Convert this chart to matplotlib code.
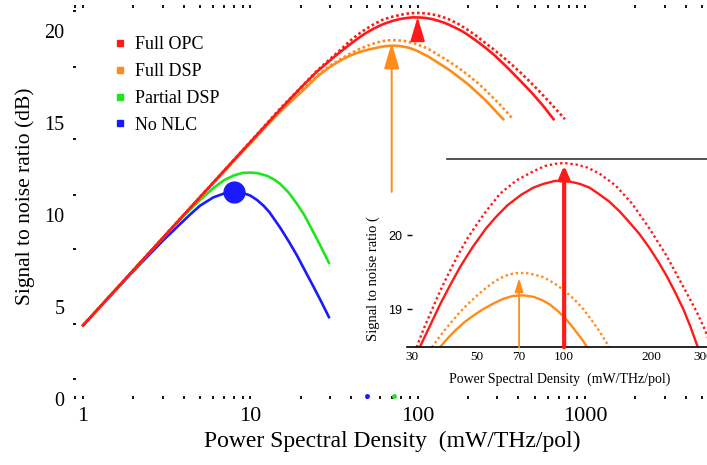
import matplotlib
matplotlib.use("Agg")
import matplotlib.pyplot as plt
from matplotlib.lines import Line2D
from matplotlib.ticker import FixedLocator, LogLocator, NullFormatter, NullLocator

plt.rcParams["font.family"] = ["Liberation Serif", "DejaVu Serif"]

RED = "#ff1a1a"
ORANGE = "#ff8c1a"
GREEN = "#1ee61e"
BLUE = "#1a1aff"

# --- main panel: SNR (dB) against power spectral density (mW/THz/pol) ---
opc_psd = [1, 2, 4, 8, 15, 20, 25, 31.9, 34.5, 37.4, 40.5, 43.9, 48.5, 53.9, 58.5, 63.8, 71,
           78.5, 85, 93.3, 104.8, 113, 122, 132, 143, 155, 166, 181, 197, 225, 257, 290, 340,
           400, 480, 560, 650]
opc_snr = [4.0, 7.0, 10.0, 13.0, 15.7, 16.9, 17.78, 18.6, 18.85, 19.1, 19.34, 19.58, 19.85,
           20.09, 20.25, 20.4, 20.54, 20.64, 20.69, 20.73, 20.72, 20.69, 20.64, 20.55, 20.45,
           20.32, 20.19, 20.02, 19.82, 19.45, 19.05, 18.65, 18.05, 17.4, 16.65, 15.95, 15.2]

opc_dot_psd = [1, 2, 4, 8, 15, 20, 25, 31.1, 33, 35.1, 37.6, 40.4, 43.3, 46.6, 50, 53.9, 60.3,
               68.8, 78.5, 86, 93.3, 100, 110, 120, 132, 150, 171.5, 197, 225, 257, 286, 320,
               360, 410, 470, 540, 640, 760]
opc_dot_snr = [4.0, 7.0, 10.0, 13.0, 15.75, 16.92, 17.82, 18.6, 18.8, 19.02, 19.28, 19.53,
               19.75, 19.96, 20.14, 20.32, 20.56, 20.74, 20.86, 20.93, 20.96, 20.97, 20.95,
               20.91, 20.83, 20.67, 20.42, 20.08, 19.72, 19.3, 18.98, 18.62, 18.22, 17.75,
               17.23, 16.67, 15.95, 15.2]

dsp_psd = [1, 2, 4, 8, 15, 20, 25, 30, 34, 37.4, 40, 42.6, 45.5, 48.9, 52.5, 57.2, 61.5, 66.5,
           72, 78.5, 84, 89, 95, 101, 108, 116, 135, 160, 200, 250, 325]
dsp_snr = [4.0, 7.0, 10.0, 12.95, 15.6, 16.65, 17.5, 18.05, 18.35, 18.55, 18.67, 18.77, 18.86,
           18.94, 19.01, 19.08, 19.14, 19.18, 19.19, 19.17, 19.125, 19.07, 18.98, 18.88, 18.74,
           18.6, 18.22, 17.78, 17.1, 16.3, 15.2]

dsp_dot_psd = [1, 2, 4, 8, 15, 20, 25, 30, 35.1, 37.6, 40.4, 43.3, 46.6, 50, 53.9, 57, 60.3,
               64.5, 69.2, 74, 78.5, 84, 89, 95, 101, 108, 116, 124, 132, 150, 175, 200, 230,
               260, 310, 372]
dsp_dot_snr = [4.0, 7.0, 10.0, 12.95, 15.62, 16.7, 17.55, 18.1, 18.49, 18.65, 18.8, 18.94,
               19.07, 19.18, 19.29, 19.36, 19.42, 19.47, 19.49, 19.49, 19.47, 19.44, 19.39,
               19.32, 19.24, 19.14, 19.01, 18.86, 18.71, 18.4, 18.0, 17.6, 17.15, 16.7, 16.0,
               15.2]

partial_psd = [1, 2, 3, 4, 5, 6, 7, 8, 9, 10, 11, 12.6, 14, 15.1, 17, 19, 21, 23.7, 26.5, 29.5]
partial_snr = [4.0, 7.0, 8.75, 9.95, 10.8, 11.45, 11.9, 12.15, 12.28, 12.3, 12.27, 12.12, 11.9,
               11.68, 11.2, 10.6, 10.0, 9.1, 8.25, 7.4]

nonlc_psd = [1, 2, 3, 3.8, 4.4, 5, 6, 7, 8, 9, 10, 11, 12, 13, 15.1, 17, 19, 21, 23.7, 26.5, 29.5]
nonlc_snr = [4.0, 6.95, 8.6, 9.5, 10.05, 10.5, 10.95, 11.17, 11.25, 11.2, 11.05, 10.8, 10.5,
             10.15, 9.3, 8.55, 7.8, 7.05, 6.15, 5.3, 4.45]

nonlc_opt = (8, 11.25)
dsp_arrow = (70, 11.25, 19.35)
opc_arrow = (100, 19.5, 20.75)
axis_marks_psd = [50, 72]

main_xticks = [1, 10, 100, 1000]
main_yticks = [0, 5, 10, 15, 20]
main_ydots = [1.1, 4.1, 8.15, 11.1, 14.1, 18.05, 21.1]
legend_labels = ["Full OPC", "Full DSP", "Partial DSP", "No NLC"]

# --- inset: zoom on the peaks ---
in_opc_psd = [31.9, 34.5, 37.4, 40.5, 43.9, 48.5, 53.9, 58.5, 63.8, 71, 78.5, 85, 93.3, 104.8,
              113, 122, 132, 143, 155, 166, 181, 197, 210, 225, 240, 257, 272, 288]
in_opc_snr = [18.49, 18.77, 19.06, 19.32, 19.57, 19.84, 20.09, 20.25, 20.4, 20.54, 20.64,
              20.69, 20.73, 20.72, 20.69, 20.64, 20.55, 20.45, 20.32, 20.19, 20.02, 19.82,
              19.65, 19.45, 19.24, 19.0, 18.76, 18.49]

in_opc_dot_psd = [31.1, 33, 35.1, 37.6, 40.4, 43.3, 46.6, 50, 53.9, 60.3, 68.8, 78.5, 86, 93.3,
                  100, 110, 120, 132, 150, 171.5, 197, 225, 257, 286, 305, 320]
in_opc_dot_snr = [18.49, 18.75, 18.99, 19.26, 19.51, 19.74, 19.96, 20.14, 20.32, 20.56, 20.74,
                  20.86, 20.93, 20.96, 20.97, 20.95, 20.91, 20.83, 20.67, 20.42, 20.08, 19.72,
                  19.3, 18.96, 18.72, 18.5]

in_dsp_psd = [37.4, 40, 42.6, 45.5, 48.9, 52.5, 57.2, 61.5, 66.5, 72, 78.5, 84, 89, 95, 101,
              108, 116, 120]
in_dsp_snr = [18.49, 18.62, 18.73, 18.83, 18.92, 19.0, 19.08, 19.14, 19.18, 19.19, 19.17,
              19.125, 19.07, 18.98, 18.88, 18.74, 18.58, 18.49]

in_dsp_dot_psd = [35.1, 37.6, 40.4, 43.3, 46.6, 50, 53.9, 57, 60.3, 64.5, 69.2, 74, 78.5, 84,
                  89, 95, 101, 108, 116, 124, 132, 143]
in_dsp_dot_snr = [18.49, 18.65, 18.8, 18.94, 19.07, 19.18, 19.29, 19.36, 19.42, 19.47, 19.49,
                  19.49, 19.47, 19.44, 19.39, 19.32, 19.24, 19.14, 19.01, 18.86, 18.71, 18.49]

in_opc_arrow = (100, 18.49, 20.94)
in_dsp_arrow = (70, 18.49, 19.42)
inset_xticks = [30, 50, 70, 100, 200, 300]
inset_yticks = [19, 20]

fig = plt.figure(figsize=(7.07, 4.65), dpi=100)

ax = fig.add_axes([0.1033, 0.1419, 0.8967, 0.8473])
ax.set_xscale("log")
ax.set_xlim(0.871, 5373)
ax.set_ylim(0, 21.4)
for s in ax.spines.values():
    s.set_visible(False)

lw = 1.9
ax.plot(nonlc_psd, nonlc_snr, color=BLUE, lw=lw)
ax.plot(partial_psd, partial_snr, color=GREEN, lw=lw)
ax.plot(dsp_dot_psd, dsp_dot_snr, color=ORANGE, lw=lw, ls=(0, (1, 1)))
ax.plot(dsp_psd, dsp_snr, color=ORANGE, lw=lw)
ax.plot(opc_dot_psd, opc_dot_snr, color=RED, lw=lw, ls=(0, (1, 1)))
ax.plot(opc_psd, opc_snr, color=RED, lw=lw)
ax.plot(*nonlc_opt, "o", color=BLUE, ms=15)
ax.plot(axis_marks_psd[:1], [0.15], ls="none", marker="o", ms=2.5, color=BLUE, clip_on=False)
ax.plot(axis_marks_psd[1:], [0.15], ls="none", marker="o", ms=2.5, color=GREEN, clip_on=False)

ax.annotate("", xy=(dsp_arrow[0], dsp_arrow[2]), xytext=(dsp_arrow[0], dsp_arrow[1]),
            arrowprops=dict(arrowstyle="-|>,head_length=1.6,head_width=0.47", mutation_scale=10,
                            color=ORANGE, lw=1.4, shrinkA=0, shrinkB=0))
ax.annotate("", xy=(opc_arrow[0], opc_arrow[2]), xytext=(opc_arrow[0], opc_arrow[1]),
            arrowprops=dict(arrowstyle="-|>,head_length=1.5,head_width=0.45", mutation_scale=10,
                            color=RED, lw=1.4, shrinkA=0, shrinkB=0))

ax.set_xticks(main_xticks, [str(v) for v in main_xticks])
ax.xaxis.set_minor_locator(LogLocator(base=10, subs=range(2, 10), numticks=20))
ax.xaxis.set_minor_formatter(NullFormatter())
ax.tick_params(axis="x", which="both", direction="in", top=True, bottom=True,
               width=1.3, length=2.5, labelsize=16, pad=5.5)
ax.set_yticks(main_yticks)
ax.yaxis.set_minor_locator(FixedLocator(main_ydots))
ax.tick_params(axis="y", which="major", length=0, labelsize=14.5, pad=6)
ax.tick_params(axis="y", which="minor", direction="in", length=2.5, width=1.3)

fig.text(25 / 707, 1 - 196 / 465, "Signal to noise ratio (dB)", rotation=90,
         ha="center", va="center", fontsize=15.5)
fig.text(392 / 707, 1 - 441 / 465, "Power Spectral Density  (mW/THz/pol)",
         ha="center", va="center", fontsize=17)

handles = [Line2D([], [], ls="none", marker="s", ms=4.5, color=c) for c in (RED, ORANGE, GREEN, BLUE)]
ax.legend(handles, legend_labels, loc="upper left", bbox_to_anchor=(112.8 / 707, 1 - 36 / 465),
          bbox_transform=fig.transFigure, frameon=False, fontsize=13, borderpad=0,
          borderaxespad=0, handlelength=0.8, handletextpad=0.45, labelspacing=0.55)

# inset
axi = fig.add_axes([0.5752, 0.2531, 0.4248, 0.4043])
axi.set_xscale("log")
axi.set_xlim(28.77, 309.6)
axi.set_ylim(18.49, 21.02)
axi.set_facecolor("white")
axi.spines["left"].set_visible(False)
axi.spines["right"].set_visible(False)
axi.spines["top"].set_color("#333333")
axi.spines["top"].set_linewidth(1.2)
axi.spines["top"].set_bounds(39.5, 309.6)
axi.spines["bottom"].set_linewidth(1.2)

ilw = 1.7
axi.plot(in_dsp_dot_psd, in_dsp_dot_snr, color=ORANGE, lw=ilw, ls=(0, (1, 1.2)))
axi.plot(in_dsp_psd, in_dsp_snr, color=ORANGE, lw=ilw)
axi.plot(in_opc_dot_psd, in_opc_dot_snr, color=RED, lw=ilw, ls=(0, (1, 1.2)))
axi.plot(in_opc_psd, in_opc_snr, color=RED, lw=ilw)
axi.annotate("", xy=(in_dsp_arrow[0], in_dsp_arrow[2]), xytext=(in_dsp_arrow[0], in_dsp_arrow[1]),
             arrowprops=dict(arrowstyle="-|>,head_length=0.8,head_width=0.25", mutation_scale=10,
                             color=ORANGE, lw=1.3, shrinkA=0, shrinkB=0))
axi.annotate("", xy=(in_opc_arrow[0], in_opc_arrow[2]), xytext=(in_opc_arrow[0], in_opc_arrow[1]),
             arrowprops=dict(arrowstyle="-|>,head_length=0.7,head_width=0.3", mutation_scale=10,
                             color=RED, lw=3, shrinkA=0, shrinkB=0))

axi.set_xticks(inset_xticks, [str(v) for v in inset_xticks])
axi.xaxis.set_minor_locator(NullLocator())
axi.tick_params(axis="x", length=0, labelsize=9.5, pad=3)
axi.set_yticks(inset_yticks, [str(v) for v in inset_yticks])
axi.tick_params(axis="y", direction="in", length=3.5, width=1, pad=3, labelsize=9)
for t in axi.get_yticklabels():
    t.set_family(["Liberation Sans", "DejaVu Sans"])

fig.text(373 / 707, 1 - 279 / 465, "Signal to noise ratio (", rotation=90,
         ha="center", va="center", fontsize=10.5)
fig.text(560 / 707, 1 - 379 / 465, "Power Spectral Density  (mW/THz/pol)",
         ha="center", va="center", fontsize=10)

fig.savefig("out.png", dpi=100)
